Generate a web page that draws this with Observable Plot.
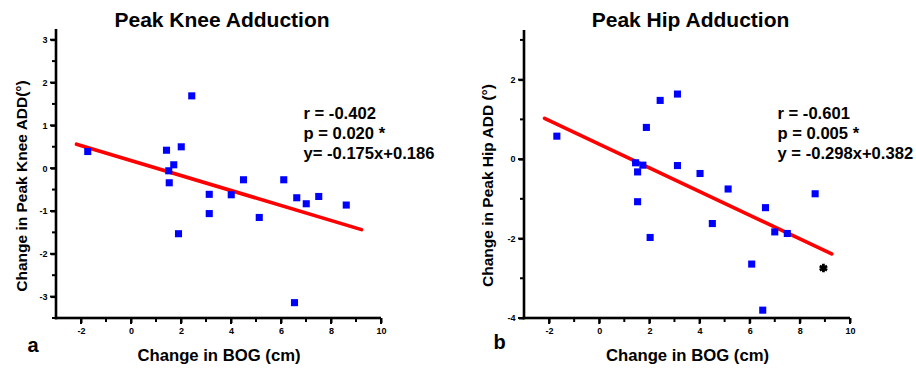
<!DOCTYPE html>
<html>
<head>
<meta charset="utf-8">
<script src="https://cdn.jsdelivr.net/npm/d3@7"></script>
<script src="https://cdn.jsdelivr.net/npm/@observablehq/plot@0.6"></script>
<style>
  html, body { margin: 0; padding: 0; background: #ffffff; }
  #wrap { width: 916px; height: 371px; display: flex; flex-direction: row; }
  #wrap svg { font-family: 'Liberation Sans', Arial, Helvetica, sans-serif; }
  #wrap svg text { font-weight: bold; }
</style>
</head>
<body>
<div id="wrap"></div>
<script>
// ---- Panel a: Peak Knee Adduction ----
const kneeBOG = [-1.75, 1.40, 1.99, 1.69, 1.49, 1.51, 2.41, 3.11, 3.11, 1.88, 3.99, 4.48, 5.11, 6.09, 6.61, 6.99, 7.49, 8.59, 6.52];
const kneeADD = [0.40, 0.43, 0.51, 0.09, -0.05, -0.33, 1.70, -0.60, -1.05, -1.52, -0.61, -0.26, -1.14, -0.26, -0.68, -0.82, -0.65, -0.85, -3.13];
const kneeFit = {slope: -0.175, intercept: 0.186};
const kneeFitRange = [-2.2, 9.2];
const kneeStats = ["r = -0.402", "p = 0.020 *", "y= -0.175x+0.186"];
const kneeYTicks = [-3, -2, -1, 0, 1, 2, 3];
const kneeYMinor = [-3.5, -2.5, -1.5, -0.5, 0.5, 1.5, 2.5];

// ---- Panel b: Peak Hip Adduction ----
const hipBOG = [-1.71, 1.86, 2.41, 3.10, 1.43, 1.72, 1.51, 3.10, 4.00, 5.12, 1.51, 2.01, 4.49, 6.61, 6.98, 7.48, 8.59, 6.06, 6.50];
const hipADD = [0.59, 0.81, 1.49, 1.65, -0.08, -0.14, -0.31, -0.15, -0.35, -0.74, -1.06, -1.96, -1.61, -1.21, -1.82, -1.86, -0.86, -2.63, -3.79];
const hipStarBOG = [8.92];
const hipStarADD = [-2.73];
const hipFit = {slope: -0.298, intercept: 0.382};
const hipFitRange = [-2.2, 9.25];
const hipStats = ["r = -0.601", "p = 0.005 *", "y = -0.298x+0.382"];
const hipYTicks = [-4, -2, 0, 2];
const hipYMinor = [-3, -1, 1, 3];

// ---- shared x axis ----
const xTicks = [-2, 0, 2, 4, 6, 8, 10];
const xMinor = [-1, 1, 3, 5, 7, 9];
const xLabel = "Change in BOG (cm)";

const W = 458, H = 371;

function panel(cfg) {
  const [mL, mR, mT, mB] = cfg.margin;
  const x0 = cfg.xDomain[0], y0 = cfg.yDomain[0];
  const pts = cfg.xs.map((x, i) => ({x, y: cfg.ys[i]}));
  const fit = cfg.fitRange.map(x => ({x, y: cfg.fit.slope * x + cfg.fit.intercept}));
  const xTickRects = (ticks) => ticks.map(t => ({x1: t, x2: t, y1: y0, y2: y0}));
  const yTickRects = (ticks) => ticks.map(t => ({x1: x0, x2: x0, y1: t, y2: t}));
  const marks = [
    // axis lines as thin filled rectangles
    Plot.rect([{x1: cfg.xDomain[0], x2: cfg.xDomain[1], y1: y0, y2: y0}], {x1: "x1", x2: "x2", y1: "y1", y2: "y2", fill: "#000", insetTop: -1.3, insetBottom: -1.3, insetLeft: -1.3, insetRight: 0}),
    Plot.rect([{x1: x0, x2: x0, y1: cfg.yDomain[0], y2: cfg.yDomain[1]}], {x1: "x1", x2: "x2", y1: "y1", y2: "y2", fill: "#000", insetLeft: -1.3, insetRight: -1.3, insetTop: 0, insetBottom: -1.3}),
    // tick marks as thin filled rectangles
    Plot.rect(xTickRects(xTicks), {x1: "x1", x2: "x2", y1: "y1", y2: "y2", fill: "#000", insetLeft: -1, insetRight: -1, insetTop: 0, insetBottom: -6}),
    Plot.rect(xTickRects(xMinor), {x1: "x1", x2: "x2", y1: "y1", y2: "y2", fill: "#000", insetLeft: -1, insetRight: -1, insetTop: 0, insetBottom: -4}),
    Plot.rect(yTickRects(cfg.yTicks), {x1: "x1", x2: "x2", y1: "y1", y2: "y2", fill: "#000", insetLeft: -6, insetRight: 0, insetTop: -1, insetBottom: -1}),
    Plot.rect(yTickRects(cfg.yMinor), {x1: "x1", x2: "x2", y1: "y1", y2: "y2", fill: "#000", insetLeft: -4, insetRight: 0, insetTop: -1, insetBottom: -1}),
    // tick labels
    Plot.axisX({ticks: xTicks, tickSize: 5, tickPadding: 4, strokeWidth: 2, fontSize: 9, label: null, tickFormat: d => String(d)}),
    Plot.axisY({ticks: cfg.yTicks, tickSize: 5, tickPadding: 4, strokeWidth: 2, fontSize: 9, label: null, tickFormat: d => String(d)}),
    // regression line
    Plot.line(fit, {x: "x", y: "y", stroke: "#ff0000", strokeWidth: 3.6}),
    // data
    Plot.dot(pts, {x: "x", y: "y", symbol: "square", r: 4, fill: "#0000ff"}),
    // title
    Plot.text([cfg.title], {frameAnchor: "top", lineAnchor: "middle", dx: cfg.titleDx, dy: cfg.titleDy, fontSize: 21, fill: "#000"}),
    // x label
    Plot.text([xLabel], {frameAnchor: "bottom", lineAnchor: "middle", dx: 0, dy: 37, fontSize: 16.7, fill: "#000"}),
    // y label
    Plot.text([cfg.yLabel], {frameAnchor: "left", lineAnchor: "middle", textAnchor: "middle", dx: cfg.yLabelDx, dy: cfg.yLabelDy, rotate: -90, fontSize: 15.5, fill: "#000"}),
    // panel letter
    Plot.text([cfg.letter], {frameAnchor: "bottom-left", lineAnchor: "middle", dx: cfg.letterDx, dy: cfg.letterDy, fontSize: 20, fill: "#000"}),
    // stats
    Plot.text([cfg.stats.join("\n")], {frameAnchor: "top-left", dx: cfg.statsDx, dy: cfg.statsDy, textAnchor: "start", lineAnchor: "top", lineHeight: 1.22, fontSize: 16.6, fill: "#000"})
  ];
  if (cfg.extra) marks.push(...cfg.extra);
  return Plot.plot({
    width: W,
    height: H,
    marginLeft: mL,
    marginRight: mR,
    marginTop: mT,
    marginBottom: mB,
    x: {domain: cfg.xDomain, axis: null},
    y: {domain: cfg.yDomain, axis: null},
    marks
  });
}

const left = panel({
  xs: kneeBOG, ys: kneeADD, fit: kneeFit, fitRange: kneeFitRange, stats: kneeStats,
  yTicks: kneeYTicks, yMinor: kneeYMinor,
  xDomain: [-3, 10], yDomain: [-3.5, 3.25],
  margin: [56, 77, 29, 53],
  title: "Peak Knee Adduction", titleDx: 3, titleDy: -9,
  yLabel: "Change in Peak Knee ADD(°)", yLabelDx: -34, yLabelDy: 12,
  letter: "a", letterDx: -29, letterDy: 27,
  statsDx: 247, statsDy: 75
});

const right = panel({
  xs: hipBOG, ys: hipADD, fit: hipFit, fitRange: hipFitRange, stats: hipStats,
  yTicks: hipYTicks, yMinor: hipYMinor,
  xDomain: [-3, 10], yDomain: [-4, 3.25],
  margin: [66, 66, 30, 53],
  title: "Peak Hip Adduction", titleDx: 3, titleDy: -10,
  yLabel: "Change in Peak Hip ADD (°)", yLabelDx: -36, yLabelDy: 11,
  letter: "b", letterDx: -31, letterDy: 24,
  statsDx: 253, statsDy: 74,
  extra: [Plot.dot(hipStarBOG.map((x, i) => ({x, y: hipStarADD[i]})), {x: "x", y: "y", symbol: "asterisk", r: 4, stroke: "#000", strokeWidth: 2.8})]
});

document.getElementById("wrap").append(left, right);
</script>
</body>
</html>
